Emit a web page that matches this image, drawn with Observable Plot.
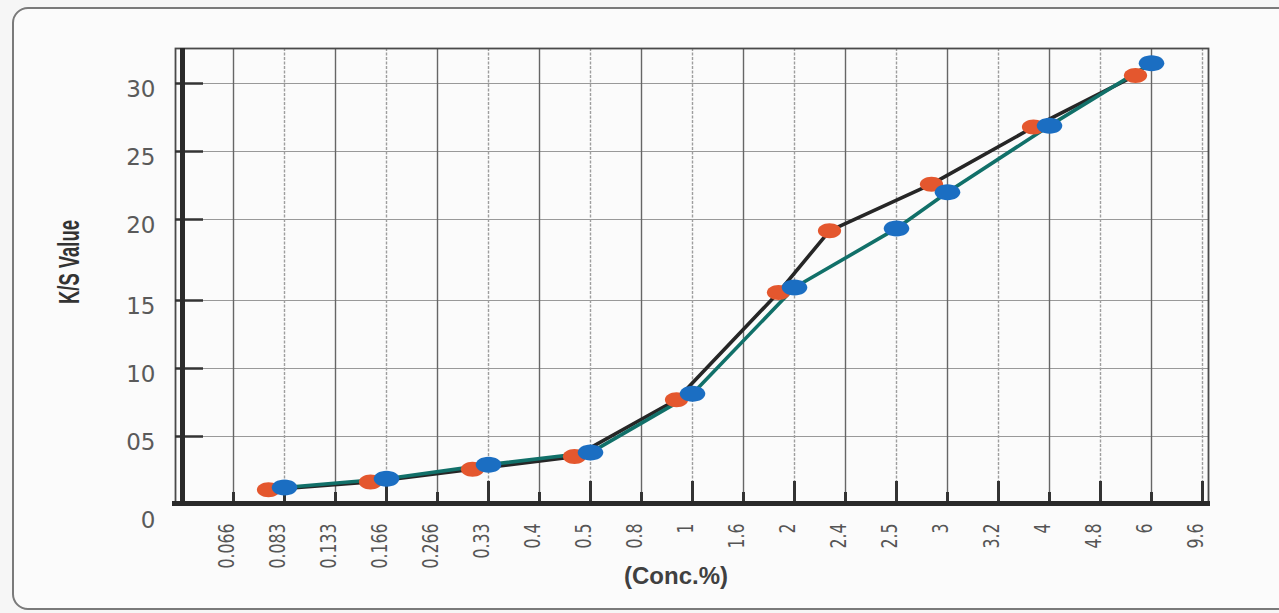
<!DOCTYPE html>
<html>
<head>
<meta charset="utf-8">
<script src="https://cdn.jsdelivr.net/npm/d3@7"></script>
<script src="https://cdn.jsdelivr.net/npm/@observablehq/plot@0.6"></script>
<style>
  html, body { margin: 0; padding: 0; background: #f6f6f6; width: 1279px; height: 613px; overflow: hidden; }
  #box { position: absolute; left: 12px; top: 7px; width: 1320px; height: 599px; border: 2px solid #7a7a7a; border-radius: 16px; background: #fbfbfb; }
  #chart { position: absolute; left: 0; top: 0; }
</style>
</head>
<body>
<div id="box"></div>
<div id="chart"></div>
<script>
// ---- data ----
const xLabels = ["0.066","0.083","0.133","0.166","0.266","0.33","0.4","0.5","0.8","1","1.6","2","2.4","2.5","3","3.2","4","4.8","6","9.6"];
const yTickValues = [0, 5, 10, 15, 20, 25, 30];
const yTickLabels = ["0", "05", "10", "15", "20", "25", "30"];

const orangeConc = ["0.083","0.166","0.33","0.5","1","2","2.4","3","4","6"];
const orangeKS   = [1.03, 1.6, 2.55, 3.5, 7.7, 15.5, 19.3, 22.6, 26.8, 30.6];

const blueConc = ["0.083","0.166","0.33","0.5","1","2","2.5","3","4","6"];
const blueKS   = [1.2, 1.85, 2.9, 3.8, 8.15, 15.8, 19.45, 22.0, 26.9, 31.5];

const xTitle = "(Conc.%)";
const yTitle = "K/S Value";

// ---- tables built from the arrays ----
const orange = orangeConc.map((c, i) => ({conc: c, ks: orangeKS[i]}));
const blue = blueConc.map((c, i) => ({conc: c, ks: blueKS[i]}));
const yTicks = yTickValues.map((v, i) => ({v, label: yTickLabels[i]}));
const xTall = xLabels.filter((d, i) => i % 2 === 1);
const xShort = xLabels.filter((d, i) => i % 2 === 0);

const ellipse = (aspect) => ({
  draw(ctx, size) {
    const r = Math.sqrt(size / Math.PI), rx = r * aspect, ry = r, k = 0.5523;
    ctx.moveTo(rx, 0);
    ctx.bezierCurveTo(rx, ry * k, rx * k, ry, 0, ry);
    ctx.bezierCurveTo(-rx * k, ry, -rx, ry * k, -rx, 0);
    ctx.bezierCurveTo(-rx, -ry * k, -rx * k, -ry, 0, -ry);
    ctx.bezierCurveTo(rx * k, -ry, rx, -ry * k, rx, 0);
    ctx.closePath();
  }
});

const plot = Plot.plot({
  width: 1279,
  height: 613,
  marginLeft: 175,
  marginRight: 71,
  marginTop: 48,
  marginBottom: 110,
  style: {background: "transparent", overflow: "visible"},
  x: {type: "point", domain: ["", ...xLabels], padding: 0, axis: null},
  y: {type: "linear", domain: [0, 5, 10, 15, 20, 25, 30, 32.6], range: [503, 436, 368, 300, 219, 151, 83, 48], axis: null},
  marks: [
    // grid
    Plot.ruleY(yTickValues.filter(v => v > 0), {stroke: "#999", strokeWidth: 1.2}),
    Plot.ruleX(xShort, {x: d => d, stroke: "#666", strokeWidth: 1.4}),
    Plot.ruleX(xTall, {x: d => d, stroke: "#9e9e9e", strokeWidth: 1.4, strokeDasharray: "3,1.5"}),
    Plot.frame({stroke: "#4a4a4a", strokeWidth: 1.8}),
    // ticks
    Plot.tickX(xTall, {x: d => d, stroke: "#333", strokeWidth: 3, insetTop: 433}),
    Plot.tickX(xShort, {x: d => d, stroke: "#333", strokeWidth: 3, insetTop: 444}),
    Plot.tickY(yTickValues.filter(v => v > 0), {y: d => d, stroke: "#333", strokeWidth: 2.5, insetRight: 1005}),
    // thick axes
    Plot.ruleY([0], {stroke: "#2a2a2a", strokeWidth: 5, insetLeft: -3, insetRight: -2}),
    Plot.ruleX([""], {x: d => d, stroke: "#2a2a2a", strokeWidth: 5, insetBottom: -2}),
    // axis labels
    Plot.text(yTicks.filter(d => d.v > 0), {y: "v", text: "label", frameAnchor: "left", dx: -20, dy: 6, textAnchor: "end", fontSize: 23, fontFamily: "'DejaVu Sans', sans-serif", fill: "#5a5a5a"}),
    Plot.text(yTicks.filter(d => d.v === 0), {y: "v", text: "label", frameAnchor: "left", dx: -20, dy: 17, textAnchor: "end", fontSize: 23, fontFamily: "'DejaVu Sans', sans-serif", fill: "#5a5a5a"}),
    Plot.text(xLabels, {x: d => d, text: d => d, frameAnchor: "bottom", dy: 20, rotate: -90, textAnchor: "end", fontSize: 21, fontFamily: "'DejaVu Sans', sans-serif", fill: "#555"}),
    Plot.text([xTitle], {text: d => d, frameAnchor: "bottom", dy: 80, dx: -16, fontSize: 24, fontWeight: "bold", fontFamily: "'Liberation Sans', Arial, sans-serif", fill: "#404040", letterSpacing: 3}),
    Plot.text([yTitle], {text: d => d, frameAnchor: "left", dx: -106, dy: 28, rotate: -90, fontSize: 29, fontWeight: "bold", fontFamily: "'Liberation Sans', Arial, sans-serif", fill: "#333"}),
    // series
    Plot.line(orange, {x: "conc", y: "ks", dx: -16, stroke: "#262626", strokeWidth: 3.6}),
    Plot.line(blue, {x: "conc", y: "ks", stroke: "#117069", strokeWidth: 3.6}),
    Plot.dot(orange, {x: "conc", y: "ks", dx: -16, symbol: ellipse(1.55), r: 7.5, fill: "#e4572e", stroke: "none"}),
    Plot.dot(blue, {x: "conc", y: "ks", symbol: ellipse(1.6), r: 8, fill: "#1b6ec2", stroke: "none"})
  ]
});
document.getElementById("chart").appendChild(plot);

// condense the narrow-font texts (no condensed face installed)
const xLabelSet = new Set(xLabels);
d3.select(plot).selectAll("text").each(function() {
  const t = this.textContent;
  const rotated = (this.getAttribute("transform") || "").includes("rotate");
  if (rotated && xLabelSet.has(t)) {
    const L = this.getComputedTextLength();
    this.setAttribute("textLength", (L * 0.75).toFixed(1));
    this.setAttribute("lengthAdjust", "spacingAndGlyphs");
  } else if (t === yTitle) {
    this.setAttribute("textLength", 84);
    this.setAttribute("lengthAdjust", "spacingAndGlyphs");
  }
});
</script>
</body>
</html>
